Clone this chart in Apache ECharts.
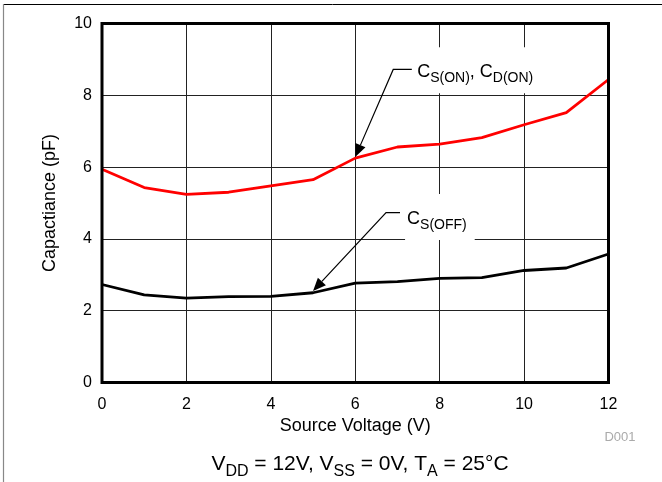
<!DOCTYPE html>
<html><head><meta charset="utf-8">
<script src="https://cdn.jsdelivr.net/npm/echarts@6/dist/echarts.min.js"></script>
<style>html,body{margin:0;padding:0;background:#fff}#c{width:662px;height:482px}</style>
</head><body><div id="c"></div>
<script>
var voltage = [0,1,2,3,4,5,6,7,8,9,10,11,12];
var cOn  = [5.94,5.43,5.24,5.30,5.48,5.65,6.25,6.56,6.64,6.82,7.18,7.52,8.44];
var cOff = [2.73,2.44,2.35,2.39,2.40,2.50,2.77,2.81,2.90,2.92,3.12,3.19,3.58];
var xTicks = [0,2,4,6,8,10,12];
var yTicks = [0,2,4,6,8,10];
// annotation anchors in data units: tip, corner, end of horizontal, label anchor
var annOn  = {tip:[6.0,6.28], corner:[6.9,8.72], end:[7.34,8.72], label:[7.42,8.70]};
var annOff = {tip:[5.0,2.55], corner:[6.73,4.73], end:[7.06,4.73], label:[7.18,4.61]};

var FONT = "'Liberation Sans', Arial, sans-serif";
var chart = echarts.init(document.getElementById('c'), null, {renderer:'canvas'});
function pairs(xs, ys){ return xs.map(function(x,i){return [x, ys[i]];}); }
var option = {
  backgroundColor:'#fff',
  animation:false,
  textStyle:{fontFamily:FONT},
  grid:{left:102, right:53.5, top:23.5, bottom:99.5, show:true, borderWidth:3, borderColor:'#000', backgroundColor:'transparent', z:10},
  xAxis:{type:'value', min:xTicks[0], max:xTicks[xTicks.length-1], interval:xTicks[1]-xTicks[0],
    name:'Source Voltage (V)', nameLocation:'middle', nameGap:34,
    nameTextStyle:{color:'#000', fontSize:18, fontFamily:FONT},
    axisLine:{show:false}, axisTick:{show:false},
    axisLabel:{color:'#000', fontSize:16, margin:14, fontFamily:FONT},
    splitLine:{show:true, lineStyle:{color:'#222', width:1}}},
  yAxis:{type:'value', min:yTicks[0], max:yTicks[yTicks.length-1], interval:yTicks[1]-yTicks[0],
    name:'Capactiance (pF)', nameLocation:'middle', nameGap:43, nameRotate:90,
    nameTextStyle:{color:'#000', fontSize:18, fontFamily:FONT},
    axisLine:{show:false}, axisTick:{show:false},
    axisLabel:{color:'#000', fontSize:16, margin:10, fontFamily:FONT},
    splitLine:{show:true, lineStyle:{color:'#222', width:1}}},
  series:[
    {type:'line', data:pairs(voltage,cOn), showSymbol:false, symbol:'none', lineStyle:{color:'#ff0000', width:2.8}, z:3},
    {type:'line', data:pairs(voltage,cOff), showSymbol:false, symbol:'none', lineStyle:{color:'#000', width:2.8}, z:3}
  ]
};
chart.setOption(option);

function px(p){ return chart.convertToPixel({gridIndex:0}, p); }
function annotation(a, richText, rich, boxPad){
  var T = px(a.tip), C = px(a.corner), E = px(a.end), L = px(a.label);
  var dx = T[0]-C[0], dy = T[1]-C[1], len = Math.sqrt(dx*dx+dy*dy);
  var ux = dx/len, uy = dy/len, AL = 13, AW = 5.5;
  var bx = T[0]-ux*AL, by = T[1]-uy*AL;
  return [
    {type:'text', z:50, style:{text:richText, rich:rich, x:L[0], y:L[1], verticalAlign:'middle', align:'left',
      backgroundColor:'#fff', padding:boxPad}},
    {type:'polyline', z:60, shape:{points:[E, C, [bx,by]]}, style:{stroke:'#000', lineWidth:1.2, fill:null}},
    {type:'polygon', z:60, shape:{points:[T, [bx-uy*AW, by+ux*AW], [bx+uy*AW, by-ux*AW]]}, style:{fill:'#000'}}
  ];
}
var big = {fontSize:18, fontFamily:FONT, fill:'#000', verticalAlign:'bottom', lineHeight:21};
var sub = {fontSize:14, fontFamily:FONT, fill:'#000', verticalAlign:'bottom', lineHeight:15, padding:[0,0,-4,0]};
var rich1 = {b:big, s:sub};
var g = [];
g = g.concat(annotation(annOn, '{b|C}{s|S(ON)}{b|, C}{s|D(ON)}', rich1, [13,8,12,2]));
g = g.concat(annotation(annOff, '{b|C}{s|S(OFF)}', rich1, [13,8,12,2]));
// page frame lines
g.push({type:'line', z:1, shape:{x1:3, y1:4.5, x2:662, y2:4.5}, style:{stroke:'#000', lineWidth:1}});
g.push({type:'line', z:1, shape:{x1:3.5, y1:4, x2:3.5, y2:482}, style:{stroke:'#888', lineWidth:1.2}});
// D001 tag
g.push({type:'text', z:5, style:{text:'D001', x:620, y:437, align:'center', verticalAlign:'middle', fontSize:13, fontFamily:FONT, fill:'#aaa'}});
// conditions caption
var big2 = {fontSize:21, fontFamily:FONT, fill:'#000', verticalAlign:'bottom', lineHeight:24};
var sub2 = {fontSize:16, fontFamily:FONT, fill:'#000', verticalAlign:'bottom', lineHeight:17, padding:[0,0,-5,0]};
g.push({type:'text', z:5, style:{text:'{b|V}{s|DD}{b| = 12V, V}{s|SS}{b| = 0V, T}{s|A}{b| = 25°C}', rich:{b:big2, s:sub2},
  x:360, y:463, align:'center', verticalAlign:'middle'}});
chart.setOption({graphic:g});
</script>
</body></html>
